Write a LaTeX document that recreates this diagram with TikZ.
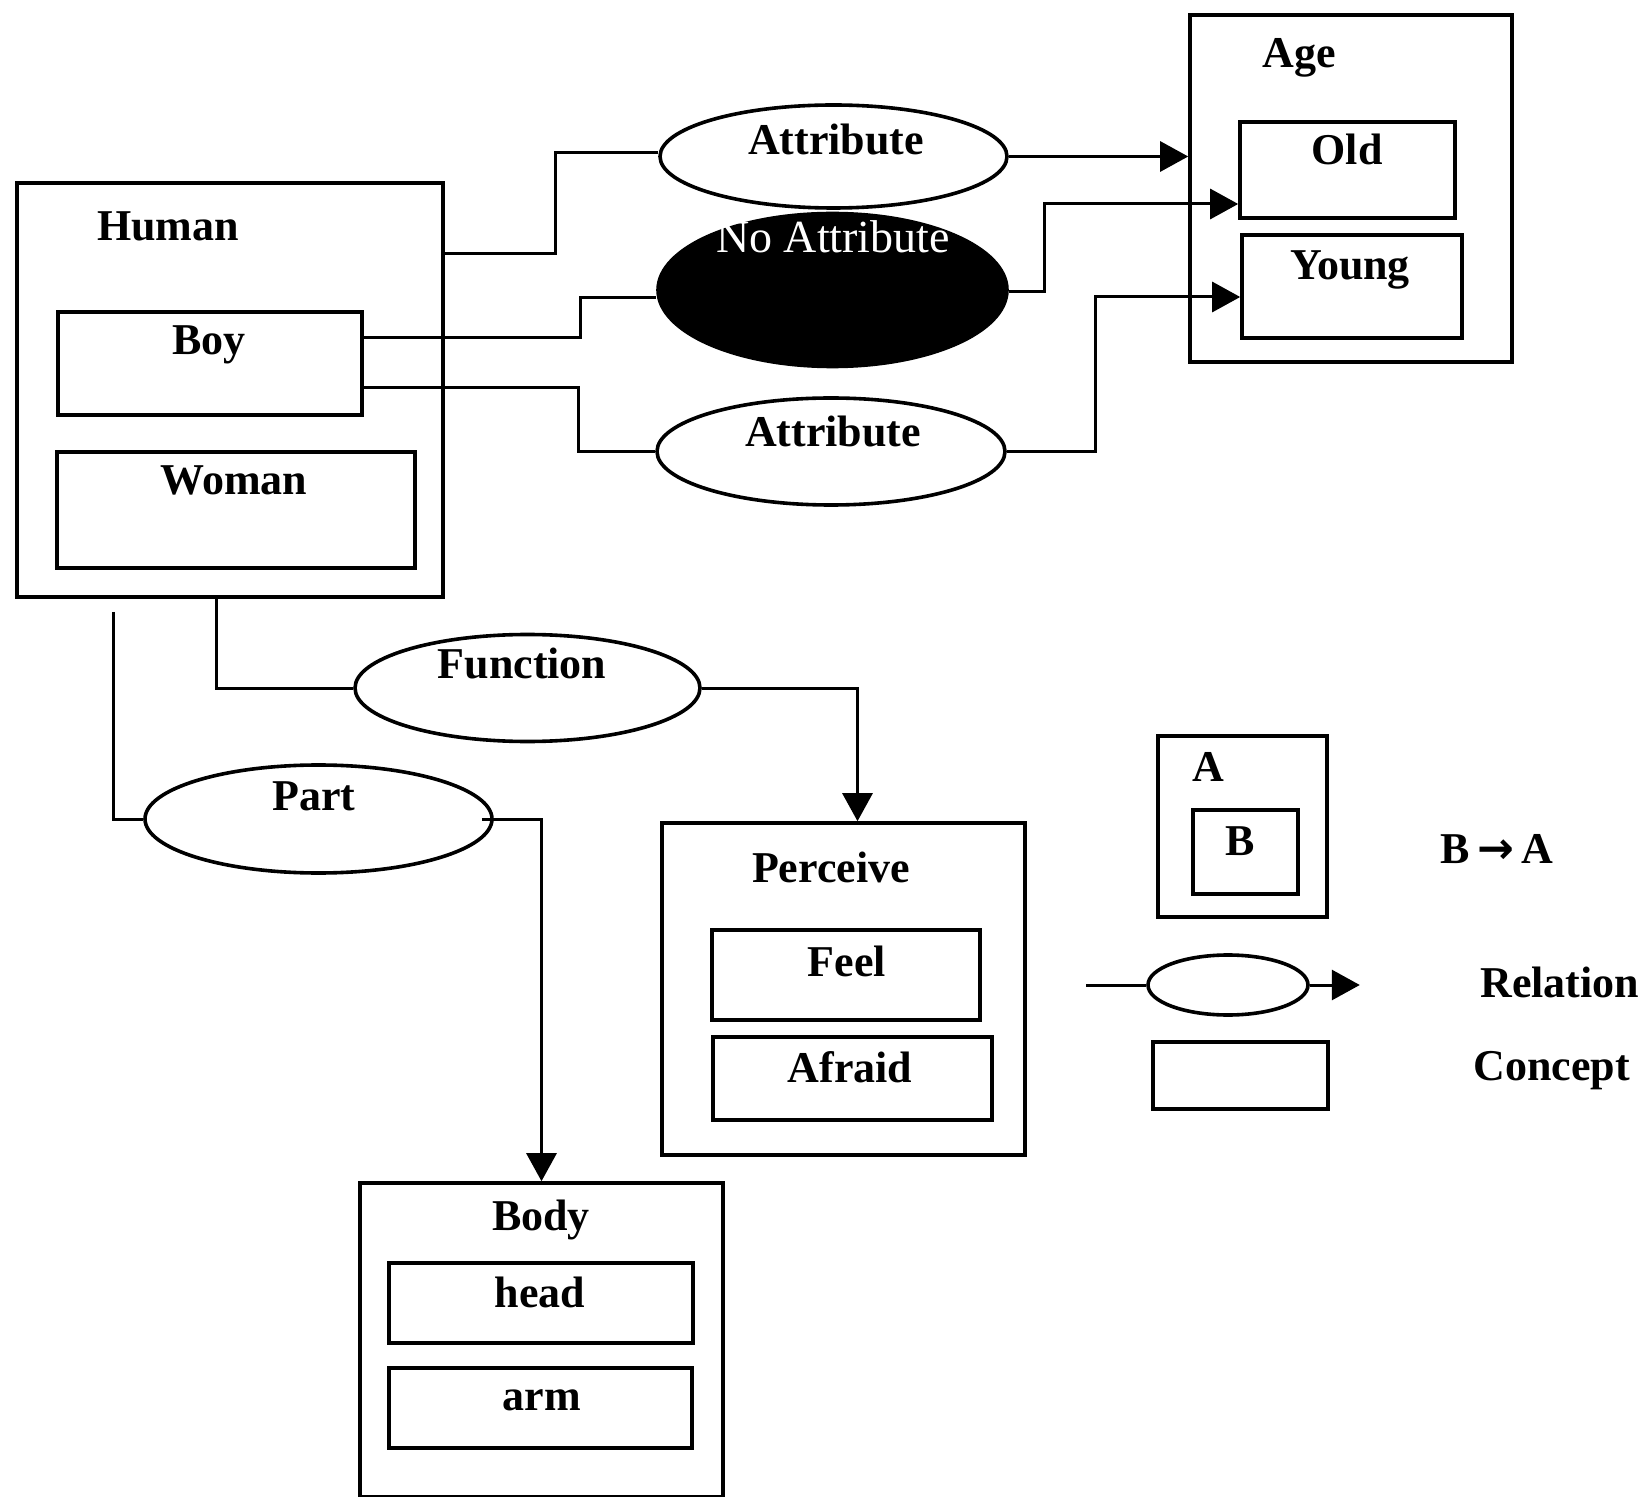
\documentclass[tikz,border=0pt]{standalone}
\usepackage{fontspec}
\setmainfont{Liberation Serif}
\newfontfamily\arrowfont{DejaVu Sans}
\usetikzlibrary{shapes.geometric, arrows.meta, positioning, calc}

\tikzset{
  concept/.style={draw, line width=1.8pt, inner sep=0pt},
  relation/.style={draw, ellipse, line width=1.8pt, inner sep=0pt},
  lbl/.style={inner sep=0pt, anchor=base},
  conn/.style={line width=1.5pt},
  arr/.style={line width=1.5pt, -{Triangle[length=14pt,width=15pt]}}
}

\begin{document}
\begin{tikzpicture}[x=0.5pt, y=-0.5pt, font=\fontsize{22}{26}\selectfont\bfseries]
\useasboundingbox (0,0) rectangle (1649,1497);

% Human and its parts
\node[concept, minimum width=213pt, minimum height=207pt] (human) at (230,390) {};
\node[concept, minimum width=152pt, minimum height=51.5pt] (boy) at (210,363.5) {};
\node[concept, minimum width=179pt, minimum height=58pt] (woman) at (236,510) {};
\node[lbl] (humanlbl) at (168,241) {Human};
\node[lbl] (boylbl) at (209,355) {Boy};
\node[lbl] (womanlbl) at (234,495) {Woman};

% Age
\node[concept, minimum width=161pt, minimum height=173.5pt] (age) at (1351,188.5) {};
\node[concept, minimum width=107.5pt, minimum height=48pt] (old) at (1347.5,170) {};
\node[concept, minimum width=110pt, minimum height=51.5pt] (young) at (1352,286.5) {};
\node[lbl] (agelbl) at (1299,68) {Age};
\node[lbl] (oldlbl) at (1347,165) {Old};
\node[lbl] (younglbl) at (1350,280) {Young};

% relations
\node[relation, minimum width=173.5pt, minimum height=51.5pt] (attr1) at (833.5,156.5) {};
\node[lbl] (attr1lbl) at (836,155) {Attribute};
\node[relation, fill=black, minimum width=174.5pt, minimum height=76.5pt] (noattr) at (832.5,290) {};
\node[lbl, text=white, font=\fontsize{23}{27}\selectfont\mdseries] (noattrlbl) at (833,253) {No Attribute};
\node[relation, minimum width=174pt, minimum height=53.5pt] (attr2) at (831,451.5) {};
\node[lbl] (attr2lbl) at (833,447) {Attribute};
\node[relation, minimum width=172.5pt, minimum height=53.5pt] (func) at (527.5,688) {};
\node[lbl] (funclbl) at (522,678) {Function};
\node[relation, minimum width=173.5pt, minimum height=54pt] (part) at (318.5,819) {};
\node[lbl] (partlbl) at (314,810) {Part};

% Perceive
\node[concept, minimum width=181.5pt, minimum height=166pt] (perceive) at (843.5,989) {};
\node[concept, minimum width=134pt, minimum height=45pt] (feel) at (846,975) {};
\node[concept, minimum width=139.5pt, minimum height=41.5pt] (afraid) at (852.5,1078.5) {};
\node[lbl] (perceivelbl) at (831,882) {Perceive};
\node[lbl] (feellbl) at (847,976) {Feel};
\node[lbl] (afraidlbl) at (850,1082) {Afraid};

% Body
\node[concept, minimum width=181.5pt, minimum height=157pt] (body) at (541.5,1340) {};
\node[concept, minimum width=152pt, minimum height=40pt] (head) at (541,1303) {};
\node[concept, minimum width=151.5pt, minimum height=40pt] (arm) at (540.5,1408) {};
\node[lbl] (bodylbl) at (541,1230) {Body};
\node[lbl] (headlbl) at (540,1307) {head};
\node[lbl] (armlbl) at (542,1410) {arm};

% connectors
\draw[conn] ([yshift=-36pt]human.north east) -- ++(111,0) |- ([yshift=2pt]attr1.west);
\draw[arr] (attr1.east) -- (attr1.east -| age.west);
\draw[conn] ([yshift=12.75pt]boy.east) -- ++(217,0) |- ([yshift=-4pt]noattr.west);
\draw[arr] ([yshift=-1pt]noattr.east) -- ++(36,0) |- ([yshift=-17pt]old.west);
\draw[conn] ([yshift=-12.25pt]boy.east) -- ++(215,0) |- (attr2.west);
\draw[arr] (attr2.east) -- ++(89,0) |- ([yshift=-5.25pt]young.west);
\draw[conn] ([xshift=-7pt]human.south) |- (func.west);
\draw[arr] (func.east) -| ([xshift=7pt]perceive.north);
\draw[conn] ([xshift=49pt,yshift=-6.5pt]human.south west) |- (part.west);
\draw[arr] ([xshift=-6pt]part.east) -| (body.north);

% legend
\node[concept, minimum width=84.5pt, minimum height=90.5pt] (legA) at (1242.5,826.5) {};
\node[concept, minimum width=52.5pt, minimum height=42pt] (legB) at (1245.5,852) {};
\node[lbl] (legAlbl) at (1208,781) {A};
\node[lbl] (legBlbl) at (1240,855) {B};
\node[lbl] (incl) at (1497,863) {B\,{\arrowfont\bfseries →}\,A};
\node[relation, minimum width=80pt, minimum height=30pt] (legrel) at (1228,985) {};
\coordinate[left=30pt of legrel.west] (legin);
\coordinate[right=25pt of legrel.east] (legout);
\draw[conn] (legin) -- (legrel.west);
\draw[arr] (legrel.east) -- (legout);
\node[lbl, anchor=base west] (rellbl) at (1480,997) {Relation};
\node[concept, minimum width=87.5pt, minimum height=33.5pt] (legC) at (1240.5,1075.5) {};
\node[lbl, anchor=base west] (conlbl) at (1473,1080) {Concept};
\end{tikzpicture}
\end{document}
